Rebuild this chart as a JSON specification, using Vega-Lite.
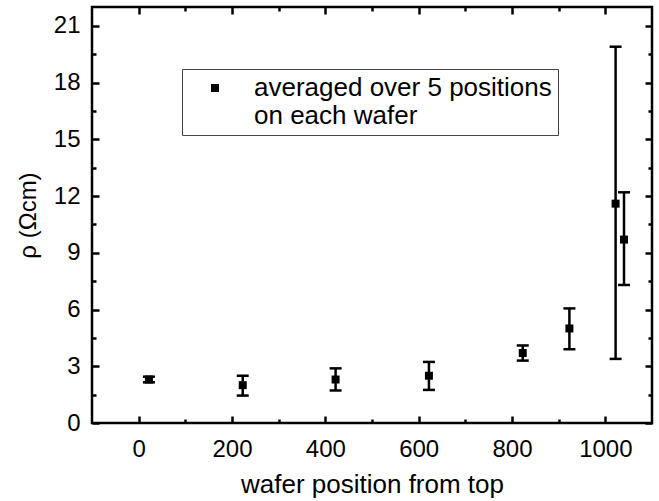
{
  "$schema": "https://vega.github.io/schema/vega-lite/v6.json",
  "width": 560,
  "height": 416,
  "autosize": "none",
  "padding": {"left": 92, "top": 7, "right": 7, "bottom": 78},
  "background": "white",
  "config": {
    "view": {"stroke": "black", "strokeWidth": 2.5},
    "font": "Liberation Sans"
  },
  "data": {
    "values": [
      {"pos": 22, "rho": 2.3, "lo": 2.15, "hi": 2.45, "series": "averaged over 5 positions|on each wafer"},
      {"pos": 223, "rho": 2.0, "lo": 1.45, "hi": 2.5, "series": "averaged over 5 positions|on each wafer"},
      {"pos": 422, "rho": 2.3, "lo": 1.72, "hi": 2.89, "series": "averaged over 5 positions|on each wafer"},
      {"pos": 622, "rho": 2.5, "lo": 1.75, "hi": 3.23, "series": "averaged over 5 positions|on each wafer"},
      {"pos": 823, "rho": 3.7, "lo": 3.3, "hi": 4.1, "series": "averaged over 5 positions|on each wafer"},
      {"pos": 923, "rho": 5.0, "lo": 3.9, "hi": 6.06, "series": "averaged over 5 positions|on each wafer"},
      {"pos": 1022, "rho": 11.6, "lo": 3.39, "hi": 19.9, "series": "averaged over 5 positions|on each wafer"},
      {"pos": 1040, "rho": 9.7, "lo": 7.3, "hi": 12.2, "series": "averaged over 5 positions|on each wafer"}
    ]
  },
  "layer": [
    {
      "mark": {"type": "rule", "color": "black", "strokeWidth": 2.5},
      "encoding": {
        "x": {
          "field": "pos", "type": "quantitative",
          "scale": {"domain": [-100, 1100], "nice": false, "zero": false},
          "axis": {
            "orient": "bottom", "offset": -7,
            "values": [0, 200, 400, 600, 800, 1000],
            "format": "d",
            "tickSize": 7, "tickWidth": 2.5, "tickColor": "black",
            "domain": false, "grid": false,
            "labelFontSize": 24, "labelColor": "black", "labelPadding": 14,
            "title": "wafer position from top",
            "titleFontSize": 26, "titleFontWeight": "normal", "titleColor": "black", "titlePadding": 10
          }
        },
        "y": {
          "field": "lo", "type": "quantitative",
          "scale": {"domain": [0, 22], "nice": false, "zero": false},
          "axis": {
            "orient": "left", "offset": -7,
            "values": [0, 3, 6, 9, 12, 15, 18, 21],
            "tickSize": 7, "tickWidth": 2.5, "tickColor": "black",
            "domain": false, "grid": false,
            "labelFontSize": 24, "labelColor": "black", "labelPadding": 12,
            "title": "ρ (Ωcm)",
            "titleFontSize": 24, "titleFontWeight": "normal", "titleColor": "black", "titlePadding": 13
          }
        },
        "y2": {"field": "hi"}
      }
    },
    {
      "mark": {"type": "point", "shape": "M-1,0L1,0", "filled": false, "size": 144, "stroke": "black", "strokeWidth": 2.5, "opacity": 1},
      "encoding": {
        "x": {
          "field": "pos", "type": "quantitative",
          "axis": {"orient": "bottom", "offset": -4, "values": [100, 300, 500, 700, 900], "tickSize": 4, "tickWidth": 2.5, "tickColor": "black", "domain": false, "grid": false, "labels": false, "title": null}
        },
        "y": {
          "field": "lo", "type": "quantitative",
          "axis": {"orient": "left", "offset": -4, "values": [1.5, 4.5, 7.5, 10.5, 13.5, 16.5, 19.5], "tickSize": 4, "tickWidth": 2.5, "tickColor": "black", "domain": false, "grid": false, "labels": false, "title": null}
        }
      }
    },
    {
      "mark": {"type": "point", "shape": "M-1,0L1,0", "filled": false, "size": 144, "stroke": "black", "strokeWidth": 2.5, "opacity": 1},
      "encoding": {
        "x": {
          "field": "pos", "type": "quantitative",
          "axis": {"orient": "top", "offset": -4, "values": [100, 300, 500, 700, 900], "tickSize": 4, "tickWidth": 2.5, "tickColor": "black", "domain": false, "grid": false, "labels": false, "title": null}
        },
        "y": {
          "field": "hi", "type": "quantitative",
          "axis": {"orient": "right", "offset": -4, "values": [1.5, 4.5, 7.5, 10.5, 13.5, 16.5, 19.5], "tickSize": 4, "tickWidth": 2.5, "tickColor": "black", "domain": false, "grid": false, "labels": false, "title": null}
        }
      }
    },
    {
      "mark": {"type": "point", "shape": "square", "filled": true, "size": 64, "opacity": 1},
      "encoding": {
        "x": {
          "field": "pos", "type": "quantitative",
          "axis": {"orient": "top", "offset": -7, "values": [0, 200, 400, 600, 800, 1000], "tickSize": 7, "tickWidth": 2.5, "tickColor": "black", "domain": false, "grid": false, "labels": false, "title": null}
        },
        "y": {
          "field": "rho", "type": "quantitative",
          "axis": {"orient": "right", "offset": -7, "values": [0, 3, 6, 9, 12, 15, 18, 21], "tickSize": 7, "tickWidth": 2.5, "tickColor": "black", "domain": false, "grid": false, "labels": false, "title": null}
        },
        "color": {
          "field": "series", "type": "nominal",
          "scale": {"range": ["black"]},
          "legend": {
            "title": null, "orient": "none", "legendX": 90, "legendY": 62,
            "strokeColor": "#444", "padding": 6,
            "symbolOffset": 14, "labelOffset": 26,
            "labelFontSize": 26, "labelColor": "black",
            "symbolType": "square", "symbolSize": 64,
            "symbolFillColor": "black", "symbolStrokeWidth": 0,
            "labelExpr": "split(datum.label, '|')",
            "labelLimit": 1000, "labelBaseline": "middle"
          }
        }
      }
    }
  ],
  "resolve": {"axis": {"x": "independent", "y": "independent"}}
}
